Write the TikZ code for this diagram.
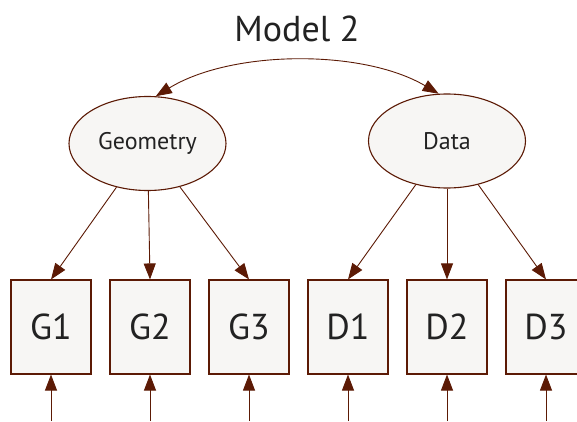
\documentclass[tikz,border=0pt]{standalone}
\usepackage{fontspec}
\setmainfont{PT Sans}
\usetikzlibrary{arrows.meta,shapes.geometric}
\definecolor{brun}{HTML}{5C1A05}
\definecolor{fond}{HTML}{F7F6F4}
\definecolor{encre}{HTML}{222222}
\tikzset{
	latente/.style={ellipse,draw=brun,line width=1.1pt,fill=fond,
		minimum width=157pt,minimum height=94pt,inner sep=0pt,
		text=encre,font=\fontsize{24}{28}\selectfont},
	mesure/.style={rectangle,draw=brun,line width=1.1pt,fill=fond,
		minimum width=80pt,minimum height=94pt,inner sep=0pt,
		text=encre,font=\fontsize{36}{40}\selectfont},
	fleche/.style={draw=brun,line width=0.9pt,-{Triangle[length=16pt,width=12pt]}},
}

\begin{document}
\begin{tikzpicture}[x=1pt,y=1pt]
	\def\largeur{577}
	\def\hauteur{421}
	\def\yBoite{94}
\useasboundingbox (0,0) rectangle (\largeur,\hauteur);
\clip (0,0) rectangle (\largeur,\hauteur); % D3 sort du cadre

%Titre
\node[anchor=base,text=encre,font=\fontsize{36}{40}\selectfont] (titre) at (297,379) {Model 2};

%Variables latentes
\node[latente] (Geometry) at (147.5,277.5) {Geometry};
\node[latente] (Data) at (447,280) {Data};

%Covariance
\draw[fleche,{Triangle[length=16pt,width=12pt]}-{Triangle[length=16pt,width=12pt]}]
	(Geometry.80) to[bend left=31,looseness=0.8] (Data.100);

%Indicateurs et erreurs
\foreach \nom/\x in {G1/51,G2/150,G3/249,D1/348,D2/447,D3/546}
{
	\node[mesure] (\nom) at (\x,\yBoite) {\nom};
	\coordinate (e\nom) at (\x,0);
	\draw[fleche] (e\nom) -- (\nom);
}

%Saturations
\foreach \i in {1,2,3}
{
	\draw[fleche] (Geometry) -- (G\i.north);
	\draw[fleche] (Data) -- (D\i.north);
}

\end{tikzpicture}
\end{document}
